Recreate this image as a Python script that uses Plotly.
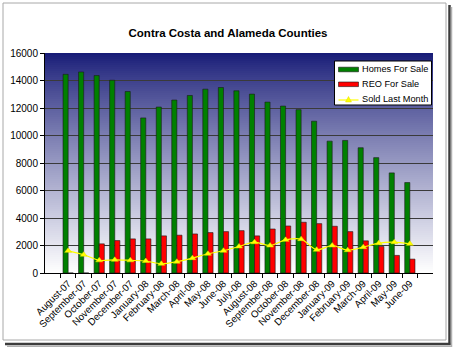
import plotly.graph_objects as go

months = ["August-07", "September-07", "October-07", "November-07", "December-07",
          "January-08", "February-08", "March-08", "April-08", "May-08", "June-08",
          "July-08", "August-08", "September-08", "October-08", "November-08",
          "December-08", "January-09", "February-09", "March-09", "April-09",
          "May-09", "June-09"]
homes_for_sale = [14450, 14620, 14360, 14020, 13200, 11280, 12070, 12580, 12910, 13370,
                  13490, 13250, 13010, 12430, 12140, 11880, 11040, 9590, 9640, 9110,
                  8390, 7280, 6580]
reo_for_sale = [0, 0, 2120, 2360, 2480, 2480, 2700, 2750, 2840, 2940, 3010, 3080, 2700,
                3200, 3420, 3690, 3590, 3400, 3010, 2340, 1930, 1280, 1010]
sold_last_month = [1610, 1330, 920, 960, 920, 870, 670, 820, 1080, 1400, 1620, 1930, 2240,
                   2000, 2410, 2460, 1690, 2000, 1660, 1880, 2170, 2240, 2120]
y_ticks = [0, 2000, 4000, 6000, 8000, 10000, 12000, 14000, 16000]
series_names = ["Homes For Sale", "REO For Sale", "Sold Last Month"]
series_colors = ["#008000", "#ff0000", "#ffff00"]

W, H = 456, 349
L, R, T, B = 45, 433, 53, 273
FONT = "Liberation Sans, Arial, sans-serif"


def px(x):
    return (x - L) / (R - L)


def py(y):
    return (B - y) / (B - T)


fig = go.Figure()
fig.add_trace(go.Bar(x=months, y=homes_for_sale, name=series_names[0],
                     marker=dict(color=series_colors[0], line=dict(color="#1a1a1a", width=0.6))))
fig.add_trace(go.Bar(x=months, y=reo_for_sale, name=series_names[1],
                     marker=dict(color=series_colors[1], line=dict(color="#1a1a1a", width=0.6))))
fig.add_trace(go.Scatter(x=months, y=sold_last_month, name=series_names[2],
                         mode="lines+markers",
                         line=dict(color=series_colors[2], width=1.2, shape="spline", smoothing=0.8),
                         marker=dict(symbol="triangle-up", size=6, color=series_colors[2],
                                     line=dict(color="#e0e000", width=0.5))))

shapes = []
annotations = []
# gradient plot background
n = 110
top = (22, 26, 118)
bot = (255, 255, 255)
for i in range(n):
    t = (i + 0.5) / n
    tt = t ** 0.85
    c = tuple(int(round(top[k] + (bot[k] - top[k]) * tt)) for k in range(3))
    shapes.append(dict(type="rect", xref="x domain", yref="y domain", layer="below",
                       x0=0, x1=1, y0=1 - i / n, y1=1 - (i + 1) / n - 0.002,
                       line=dict(width=0), fillcolor="rgb(%d,%d,%d)" % c))
# chart frame
shapes.append(dict(type="rect", xref="paper", yref="paper", layer="below",
                   x0=px(3), x1=px(446), y0=py(3), y1=py(340),
                   line=dict(color="#a8a8a8", width=1), fillcolor="rgba(0,0,0,0)"))
shapes.append(dict(type="line", xref="paper", yref="paper", layer="above",
                   x0=px(449.5), x1=px(449.5), y0=py(5), y1=py(345),
                   line=dict(color="#3c3c3c", width=2.5)))
shapes.append(dict(type="line", xref="paper", yref="paper", layer="above",
                   x0=px(5), x1=px(450.5), y0=py(344), y1=py(344),
                   line=dict(color="#3c3c3c", width=2.5)))
shapes.append(dict(type="line", xref="paper", yref="paper", layer="above",
                   x0=px(451.5), x1=px(451.5), y0=py(7), y1=py(347),
                   line=dict(color="#b0b0b0", width=1.5)))
shapes.append(dict(type="line", xref="paper", yref="paper", layer="above",
                   x0=px(7), x1=px(452), y0=py(346.2), y1=py(346.2),
                   line=dict(color="#b0b0b0", width=1.5)))

# custom legend (box, keys, labels)
shapes.append(dict(type="rect", xref="paper", yref="paper", layer="above",
                   x0=px(334.5), x1=px(431.5), y0=py(61), y1=py(105),
                   line=dict(color="black", width=1), fillcolor="white"))
key_y = [69.5, 84.3, 100]
text_y = [69, 84, 98.5]
for k in range(2):
    shapes.append(dict(type="rect", xref="paper", yref="paper", layer="above",
                       x0=px(338.5), x1=px(358.5), y0=py(key_y[k] - 2.3), y1=py(key_y[k] + 2.3),
                       line=dict(color="#1a1a1a", width=0.6), fillcolor=series_colors[k]))
shapes.append(dict(type="line", xref="paper", yref="paper", layer="above",
                   x0=px(338.5), x1=px(358.5), y0=py(key_y[2]), y1=py(key_y[2]),
                   line=dict(color=series_colors[2], width=1.2)))
tx, ty = 348.5, key_y[2]
shapes.append(dict(type="path", xref="paper", yref="paper", layer="above",
                   path="M %f,%f L %f,%f L %f,%f Z" % (px(tx - 3), py(ty + 2), px(tx + 3), py(ty + 2),
                                                       px(tx), py(ty - 3.5)),
                   line=dict(color="#e0e000", width=0.5), fillcolor=series_colors[2]))
for k in range(3):
    annotations.append(dict(xref="paper", yref="paper", x=px(359.5), y=py(text_y[k]),
                            xanchor="left", yanchor="middle", showarrow=False,
                            text=series_names[k],
                            font=dict(family=FONT, size=9.2, color="black")))

fig.update_layout(
    width=W, height=H,
    margin=dict(l=L, r=W - R, t=T, b=H - B, autoexpand=False),
    paper_bgcolor="white",
    plot_bgcolor="rgba(0,0,0,0)",
    font=dict(family=FONT, size=10, color="black"),
    title=dict(text="<b>Contra Costa and Alameda Counties</b>", x=0.5, xref="container",
               xanchor="center", y=1 - 33 / H, yanchor="middle",
               font=dict(family=FONT, size=11.5, color="black")),
    barmode="group", bargap=0.34, bargroupgap=0.0,
    shapes=shapes,
    annotations=annotations,
    showlegend=False,
)
fig.update_xaxes(type="category", tickangle=-45, tickfont=dict(size=9.8),
                 showline=True, linecolor="black", linewidth=1,
                 ticks="outside", tickson="boundaries", ticklen=4, tickcolor="black",
                 showgrid=False, automargin=False)
fig.update_yaxes(range=[0, 16000], tickvals=y_ticks, tickformat="d", tickfont=dict(size=10),
                 showline=True, linecolor="black", linewidth=1,
                 ticks="outside", ticklen=4, tickcolor="black",
                 showgrid=True, gridcolor="#3a3a3a", gridwidth=1,
                 zeroline=False, automargin=False)

fig.write_html("out.html")
